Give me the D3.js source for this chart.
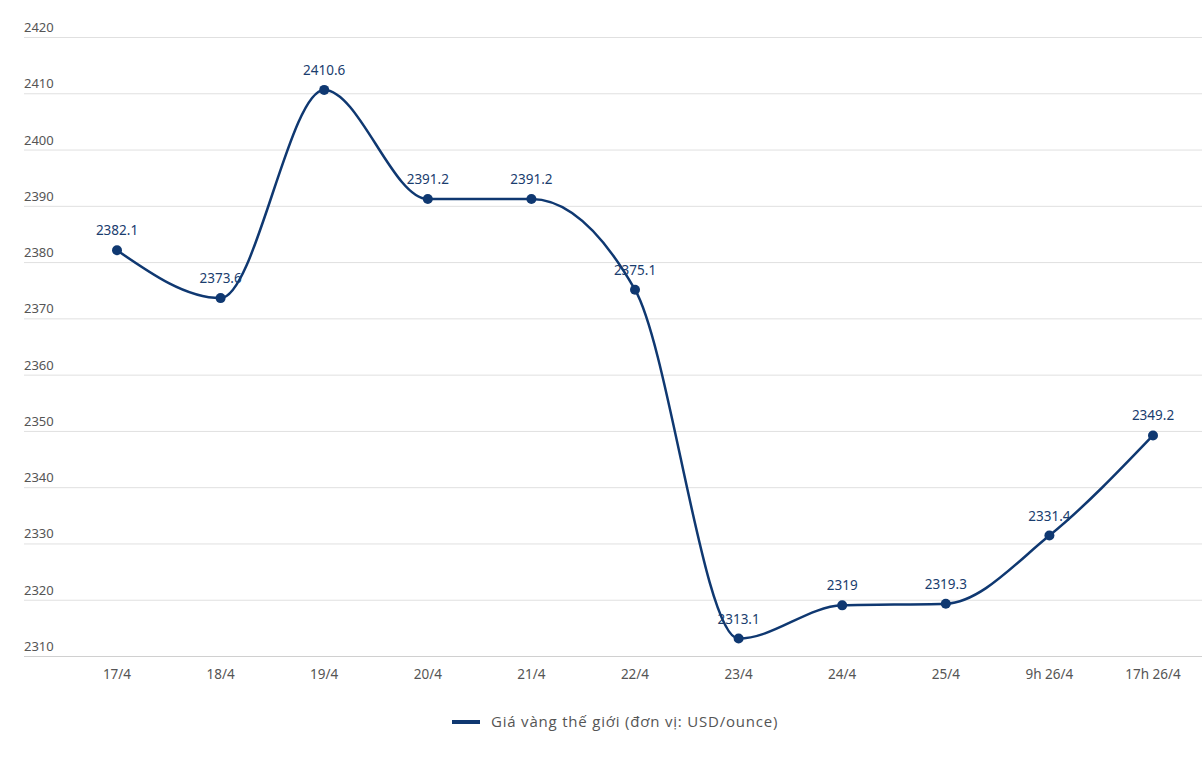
<!DOCTYPE html>
<html><head><meta charset="utf-8">
<script src="https://cdn.jsdelivr.net/npm/d3@7"></script>
<style>body{margin:0;background:#fff}svg{display:block}</style>
</head><body><svg id="c" width="1202" height="762"></svg>
<script>
const categories = ["17/4","18/4","19/4","20/4","21/4","22/4","23/4","24/4","25/4","9h 26/4","17h 26/4"];
const values = [2382.1,2373.6,2410.6,2391.2,2391.2,2375.1,2313.1,2319,2319.3,2331.4,2349.2];
const yTicks = [2310,2320,2330,2340,2350,2360,2370,2380,2390,2400,2410,2420];
const seriesName = "Giá vàng thế giới (đơn vị: USD/ounce)";

const svg = d3.select("#c");
const color = "#0f3871";
const font = "'Noto Sans', sans-serif";
const x = d3.scalePoint().domain(categories).range([117,1153]);
const y = d3.scaleLinear().domain([2310,2420]).range([656,37]);

// grid + y labels
const g = svg.append("g");
g.selectAll("line.grid").data(yTicks).join("line")
  .attr("x1",24).attr("x2",1202).attr("y1",d=>y(d)+0.5).attr("y2",d=>y(d)+0.5)
  .attr("stroke",d=>d===2310?"#d0d0d0":"#e0e0e0").attr("stroke-width",1);
g.selectAll("text.yl").data(yTicks).join("text")
  .attr("x",24).attr("y",d=>y(d)-5)
  .attr("font-family",font).attr("font-size",13).attr("fill","#555")
  .text(d=>d);

// x labels
svg.append("g").selectAll("text").data(categories).join("text")
  .attr("x",d=>x(d)).attr("y",679).attr("text-anchor","middle")
  .attr("font-family",font).attr("font-size",13.5).attr("fill","#555")
  .text(d=>d);

const data = categories.map((c,i)=>({c,v:values[i]}));
const line = d3.line().x(d=>x(d.c)).y(d=>y(d.v)).curve(d3.curveMonotoneX);
svg.append("path").datum(data).attr("d",line)
  .attr("fill","none").attr("stroke",color).attr("stroke-width",2.5);
svg.append("g").selectAll("circle").data(data).join("circle")
  .attr("cx",d=>x(d.c)).attr("cy",d=>y(d.v)).attr("r",5).attr("fill",color);
svg.append("g").selectAll("text").data(data).join("text")
  .attr("x",d=>x(d.c)).attr("y",d=>y(d.v)-15).attr("text-anchor","middle")
  .attr("font-family",font).attr("font-size",13.5).attr("fill","#1a3d6e")
  .text(d=>d.v);

// legend
svg.append("line").attr("x1",452).attr("x2",480).attr("y1",722).attr("y2",722)
  .attr("stroke",color).attr("stroke-width",4);
svg.append("text").attr("x",491).attr("y",727).attr("font-family","'Open Sans', sans-serif")
  .attr("font-size",15).attr("letter-spacing",0.8).attr("fill","#555").text(seriesName);
</script></body></html>
